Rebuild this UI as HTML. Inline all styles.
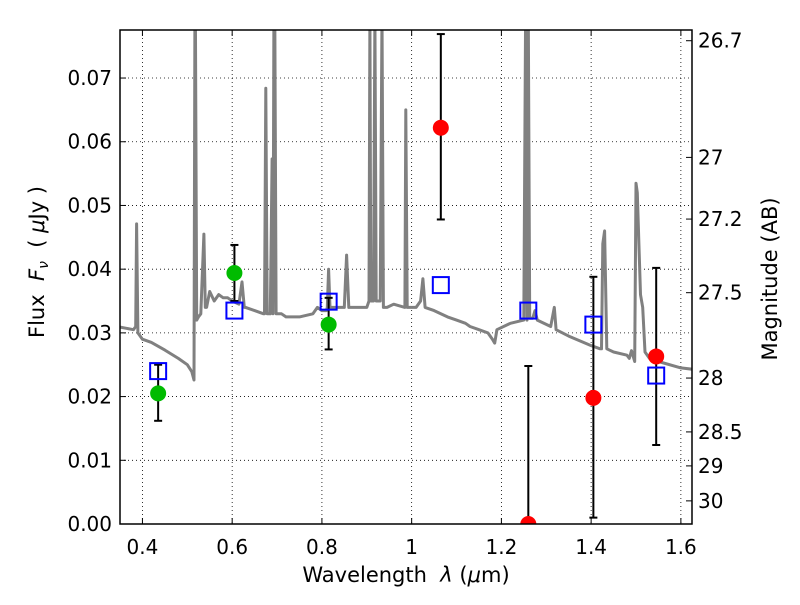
<!DOCTYPE html>
<html><head><meta charset="utf-8"><style>
body{margin:0;background:#fff;}
svg{font-family:"DejaVu Sans","Liberation Sans",sans-serif;}
text{white-space:pre;}
</style></head><body>
<svg id="chart" width="800" height="600"></svg>
<script>
const xTicks=[0.4,0.6,0.8,1.0,1.2,1.4,1.6];
const xTickLabels=["0.4","0.6","0.8","1","1.2","1.4","1.6"];
const yTicks=[0,0.01,0.02,0.03,0.04,0.05,0.06,0.07];
const yTickLabels=["0.00","0.01","0.02","0.03","0.04","0.05","0.06","0.07"];
const magTicks=[26.7,27,27.2,27.5,28,28.5,29,30];
const magTickLabels=["26.7","27","27.2","27.5","28","28.5","29","30"];
const specWave=[0.35,0.38,0.385,0.387,0.39,0.40,0.42,0.45,0.48,0.50,0.51,0.515,0.517,0.518,0.521,0.525,0.53,0.537,0.54,0.543,0.55,0.56,0.57,0.58,0.59,0.60,0.615,0.622,0.627,0.63,0.65,0.67,0.672,0.675,0.678,0.685,0.689,0.691,0.693,0.695,0.698,0.71,0.72,0.75,0.78,0.79,0.80,0.81,0.812,0.815,0.818,0.84,0.85,0.855,0.86,0.9,0.905,0.907,0.909,0.915,0.918,0.921,0.93,0.934,0.937,0.945,0.96,0.985,0.987,0.99,1.0,1.01,1.02,1.025,1.03,1.05,1.08,1.1,1.12,1.13,1.15,1.17,1.18,1.185,1.19,1.22,1.25,1.254,1.257,1.26,1.263,1.27,1.275,1.28,1.31,1.318,1.322,1.35,1.40,1.42,1.423,1.426,1.43,1.435,1.45,1.48,1.485,1.49,1.497,1.50,1.503,1.51,1.515,1.52,1.53,1.55,1.6,1.625];
const specFlux=[0.0309,0.0305,0.031,0.0471,0.030,0.029,0.0285,0.0273,0.026,0.025,0.0239,0.0226,0.08,0.08,0.032,0.0325,0.033,0.0455,0.034,0.034,0.0365,0.035,0.036,0.0355,0.0355,0.035,0.0345,0.038,0.034,0.034,0.0335,0.033,0.033,0.0684,0.033,0.033,0.0573,0.033,0.08,0.08,0.033,0.033,0.0325,0.0325,0.033,0.034,0.0335,0.0335,0.034,0.040,0.034,0.034,0.034,0.0422,0.034,0.034,0.035,0.08,0.035,0.035,0.08,0.035,0.035,0.08,0.034,0.034,0.0345,0.034,0.065,0.034,0.034,0.034,0.035,0.0385,0.034,0.0335,0.0325,0.032,0.0315,0.031,0.0305,0.030,0.029,0.0284,0.0305,0.0315,0.032,0.08,0.032,0.08,0.0323,0.0323,0.0335,0.032,0.031,0.034,0.0305,0.0295,0.028,0.0275,0.0275,0.044,0.046,0.0275,0.027,0.0265,0.026,0.0272,0.0255,0.0535,0.052,0.036,0.034,0.027,0.026,0.0255,0.0245,0.0243];
const photWave=[0.435,0.605,0.815,1.065,1.26,1.405,1.545];
const photFlux=[0.0205,0.0394,0.0313,0.0622,0.0,0.0198,0.0263];
const photErrLo=[0.0162,0.035,0.0274,0.0478,0.0,0.001,0.0124];
const photErrHi=[0.025,0.0438,0.0355,0.0769,0.0248,0.0388,0.0402];
const photColor=["#00bb00","#00bb00","#00bb00","#ff0000","#ff0000","#ff0000","#ff0000"];
const modelWave=[0.435,0.605,0.815,1.065,1.26,1.405,1.545];
const modelFlux=[0.024,0.0335,0.0349,0.0375,0.0335,0.0313,0.0233];

const L=120,R=692,T=30,B=524;
const X0=0.35,X1=1.6248,Y0=0,Y1=0.07754;
const sx=v=>L+(v-X0)/(X1-X0)*(R-L);
const sy=v=>B-(v-Y0)/(Y1-Y0)*(B-T);
const NS="http://www.w3.org/2000/svg";
const svg=document.getElementById('chart');
function mk(tag,attrs,parent){const e=document.createElementNS(NS,tag);for(const k in attrs)e.setAttribute(k,attrs[k]);(parent||svg).appendChild(e);return e;}

const defs=mk('defs',{});
const cp=mk('clipPath',{id:'pc'},defs);
mk('rect',{x:L,y:T,width:R-L,height:B-T},cp);

xTicks.forEach((v,i)=>{
  const g=mk('line',{x1:sx(v),x2:sx(v),y1:T,y2:B,stroke:'#000','stroke-width':0.8,'stroke-dasharray':'1,3'});
  
  
  mk('line',{x1:sx(v),x2:sx(v),y1:B,y2:B-6,stroke:'#000'});
  mk('line',{x1:sx(v),x2:sx(v),y1:T,y2:T+6,stroke:'#000'});
  const t=mk('text',{x:sx(v),y:B+30,'font-size':20,'text-anchor':'middle'});
  t.textContent=xTickLabels[i];
  
  
});
yTicks.forEach((v,i)=>{
  const g=mk('line',{x1:L,x2:R,y1:sy(v),y2:sy(v),stroke:'#000','stroke-width':0.8,'stroke-dasharray':'1,3'});
  
  
  mk('line',{x1:L,x2:L+6,y1:sy(v),y2:sy(v),stroke:'#000'});
  const t=mk('text',{x:L-8,y:sy(v)+7,'font-size':20,'text-anchor':'end'});
  t.textContent=yTickLabels[i];
  
  
});
magTicks.forEach((m,i)=>{
  const y=sy(Math.pow(10,(23.9-m)/2.5));
  mk('line',{x1:R,x2:R-6,y1:y,y2:y,stroke:'#000'});
  const t=mk('text',{x:R+6,y:y+7,'font-size':20});
  t.textContent=magTickLabels[i];
  
  
});

const plot=mk('g',{'clip-path':'url(#pc)'});


const d=specWave.map((w,i)=>(i?'L':'M')+sx(w).toFixed(1)+','+sy(specFlux[i]).toFixed(1)).join('');
const sp=mk('path',{d:d,fill:'none',stroke:'#808080','stroke-width':3,'stroke-linejoin':'round'},plot);



photWave.forEach((w,i)=>{
  const x=sx(w);
  const eb=mk('g',{},plot);
  
  
  mk('line',{x1:x,x2:x,y1:sy(photErrLo[i]),y2:sy(photErrHi[i]),stroke:'#000','stroke-width':2},eb);
  mk('line',{x1:x-4,x2:x+4,y1:sy(photErrLo[i]),y2:sy(photErrLo[i]),stroke:'#000','stroke-width':2},eb);
  mk('line',{x1:x-4,x2:x+4,y1:sy(photErrHi[i]),y2:sy(photErrHi[i]),stroke:'#000','stroke-width':2},eb);
});
modelWave.forEach((w,i)=>{
  const r=mk('rect',{x:sx(w)-8,y:sy(modelFlux[i])-8,width:16,height:16,fill:'none',stroke:'#0000ff','stroke-width':2},plot);
  
  
});
photWave.forEach((w,i)=>{
  const c=mk('circle',{cx:sx(w),cy:sy(photFlux[i]),r:8,fill:photColor[i]},plot);
  
  
});

const fr=mk('rect',{x:L,y:T,width:R-L,height:B-T,fill:'none',stroke:'#000','stroke-width':1.5});



const xt=mk('text',{x:406,y:582,'font-size':21,'text-anchor':'middle'});
xt.innerHTML='Wavelength  <tspan font-style="italic">λ</tspan> (<tspan font-style="italic">μ</tspan>m)';


const yt=mk('text',{x:0,y:0,'font-size':21,'text-anchor':'middle',transform:'translate(44,262) rotate(-90)'});
yt.innerHTML='Flux  <tspan font-style="italic">F</tspan><tspan font-style="italic" font-size="14" dy="4">ν</tspan><tspan dy="-4">  ( </tspan><tspan font-style="italic">μ</tspan>Jy )';


const rt=mk('text',{x:0,y:0,'font-size':21,'text-anchor':'middle',transform:'translate(777,279) rotate(-90)'});
rt.textContent='Magnitude (AB)';


</script>
</body></html>
